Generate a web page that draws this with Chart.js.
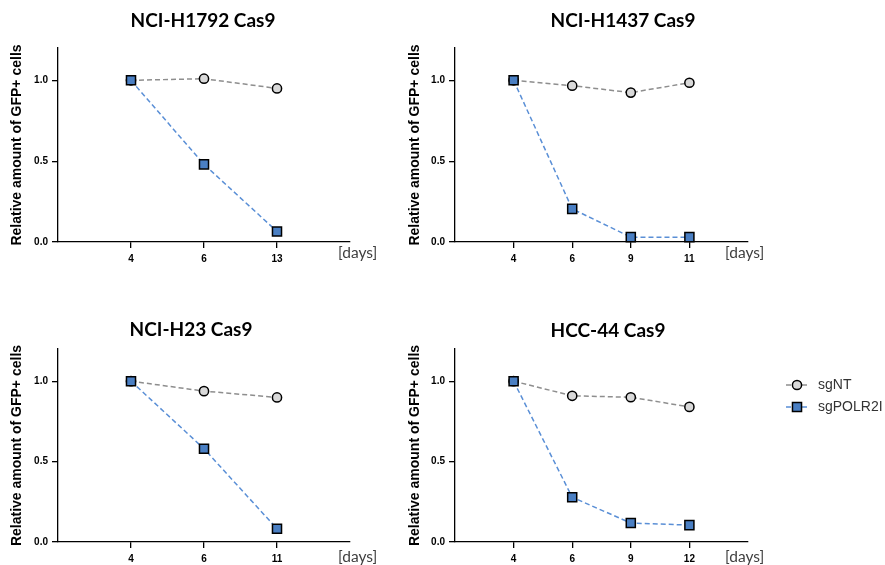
<!DOCTYPE html>
<html>
<head>
<meta charset="utf-8">
<script src="https://cdn.jsdelivr.net/npm/chart.js@4"></script>
<style>
  html, body { margin: 0; padding: 0; background: #fff; width: 885px; height: 565px; overflow: hidden; }
  .wrap { position: absolute; }
  .title { position: absolute; font-family: Lato, "Liberation Sans", sans-serif; font-weight: 700; font-size: 19px; color: #000; white-space: nowrap; transform: translate(-50%, -50%); }
  .unit { position: absolute; font-family: Lato, "Liberation Sans", sans-serif; font-size: 15.5px; color: #404040; white-space: nowrap; transform: translateY(-50%); }
</style>
</head>
<body>
<script>
// ---- data ----
const seriesNames = ['sgNT', 'sgPOLR2I'];
const yTicks = [0, 0.5, 1.0];

const titleH1792 = 'NCI-H1792 Cas9';
const daysH1792 = ['4', '6', '13'];
const sgNT_H1792 = [1.0, 1.01, 0.95];
const sgPOLR2I_H1792 = [1.0, 0.48, 0.065];

const titleH1437 = 'NCI-H1437 Cas9';
const daysH1437 = ['4', '6', '9', '11'];
const sgNT_H1437 = [1.0, 0.967, 0.924, 0.985];
const sgPOLR2I_H1437 = [1.0, 0.205, 0.03, 0.03];

const titleH23 = 'NCI-H23 Cas9';
const daysH23 = ['4', '6', '11'];
const sgNT_H23 = [1.0, 0.938, 0.899];
const sgPOLR2I_H23 = [1.0, 0.58, 0.082];

const titleHCC44 = 'HCC-44 Cas9';
const daysHCC44 = ['4', '6', '9', '12'];
const sgNT_HCC44 = [1.0, 0.909, 0.90, 0.84];
const sgPOLR2I_HCC44 = [1.0, 0.278, 0.118, 0.105];

const unitLabel = '[days]';
const yTitle = 'Relative amount of GFP+ cells';

// ---- styles ----
const NT_STYLE = { line: '#8e8e8e', fill: '#d9d9d9', shape: 'circle', r: 4.6 };
const PO_STYLE = { line: '#5a8fd6', fill: '#4a7fc3', shape: 'rect', r: 6.4 };

const panels = [
  { title: titleH1792, days: daysH1792, nt: sgNT_H1792, po: sgPOLR2I_H1792,
    left: 0, top: 30, w: 400, h: 240, yW: 58, padR: 50, padB: 6, titleX: 203, titleY: 19, unitX: 338, unitY: 252, yTitlePad: 8.6 },
  { title: titleH1437, days: daysH1437, nt: sgNT_H1437, po: sgPOLR2I_H1437,
    left: 400, top: 30, w: 400, h: 240, yW: 55, padR: 52, padB: 6, titleX: 623, titleY: 19, unitX: 725, unitY: 252, yTitlePad: 6.6 },
  { title: titleH23, days: daysH23, nt: sgNT_H23, po: sgPOLR2I_H23,
    left: 0, top: 330, w: 400, h: 235, yW: 58, padR: 50, padB: 1, titleX: 191, titleY: 328, unitX: 338, unitY: 556, yTitlePad: 8.6 },
  { title: titleHCC44, days: daysHCC44, nt: sgNT_HCC44, po: sgPOLR2I_HCC44,
    left: 400, top: 330, w: 485, h: 235, yW: 55, padR: 137, padB: 1, titleX: 608, titleY: 329, unitX: 725, unitY: 556, yTitlePad: 6.6, legend: true }
];

const legendPlugin = {
  id: 'customLegend',
  afterDraw(chart, args, opts) {
    if (!opts || !opts.show) return;
    const ctx = chart.ctx;
    const items = [
      { name: seriesNames[0], st: NT_STYLE, y: opts.y0 },
      { name: seriesNames[1], st: PO_STYLE, y: opts.y1 }
    ];
    ctx.save();
    items.forEach(it => {
      ctx.strokeStyle = it.st.line;
      ctx.lineWidth = 1.5;
      ctx.setLineDash([5, 3]);
      ctx.beginPath();
      ctx.moveTo(opts.x - 11, it.y);
      ctx.lineTo(opts.x + 10, it.y);
      ctx.stroke();
      ctx.setLineDash([]);
      ctx.fillStyle = it.st.fill;
      ctx.strokeStyle = '#000';
      ctx.lineWidth = 1.5;
      Chart.helpers.drawPoint(ctx, { pointStyle: it.st.shape, radius: it.st.r, borderWidth: 1.5, rotation: 0 }, opts.x, it.y);
      ctx.fillStyle = '#333';
      ctx.font = '14px "Liberation Sans", Arial, sans-serif';
      ctx.textAlign = 'left';
      ctx.textBaseline = 'middle';
      ctx.fillText(it.name, opts.tx, it.y);
    });
    ctx.restore();
  }
};

panels.forEach((p, idx) => {
  const wrap = document.createElement('div');
  wrap.className = 'wrap';
  wrap.style.left = p.left + 'px';
  wrap.style.top = p.top + 'px';
  wrap.style.width = p.w + 'px';
  wrap.style.height = p.h + 'px';
  const cv = document.createElement('canvas');
  wrap.appendChild(cv);
  document.body.appendChild(wrap);

  const t = document.createElement('div');
  t.className = 'title';
  t.textContent = p.title;
  t.style.left = p.titleX + 'px';
  t.style.top = p.titleY + 'px';
  document.body.appendChild(t);

  const u = document.createElement('div');
  u.className = 'unit';
  u.textContent = unitLabel;
  u.style.left = p.unitX + 'px';
  u.style.top = p.unitY + 'px';
  document.body.appendChild(u);

  const labels = [''].concat(p.days, ['']);
  const ntData = [null].concat(p.nt, [null]);
  const poData = [null].concat(p.po, [null]);
  const n = p.days.length;

  new Chart(cv, {
    type: 'line',
    data: {
      labels: labels,
      datasets: [
        { label: seriesNames[0], data: ntData, order: 2,
          borderColor: NT_STYLE.line, borderWidth: 1.5, borderDash: [5, 3],
          pointStyle: NT_STYLE.shape, pointRadius: NT_STYLE.r, pointBackgroundColor: NT_STYLE.fill,
          pointBorderColor: '#000', pointBorderWidth: 1.5, tension: 0, spanGaps: false },
        { label: seriesNames[1], data: poData, order: 1,
          borderColor: PO_STYLE.line, borderWidth: 1.5, borderDash: [5, 3],
          pointStyle: PO_STYLE.shape, pointRadius: PO_STYLE.r, pointBackgroundColor: PO_STYLE.fill,
          pointBorderColor: '#000', pointBorderWidth: 1.5, tension: 0, spanGaps: false }
      ]
    },
    options: {
      responsive: true,
      maintainAspectRatio: false,
      animation: false,
      events: [],
      clip: false,
      layout: { padding: { left: 0, top: p.top === 30 ? 18 : 19, right: p.padR, bottom: p.padB } },
      plugins: {
        legend: { display: false },
        tooltip: { enabled: false },
        title: { display: false },
        customLegend: { show: !!p.legend, x: 397, y0: 55, y1: 77, tx: 418 }
      },
      scales: {
        x: {
          type: 'category',
          offset: false,
          afterBuildTicks: (s) => { s.ticks = s.ticks.filter(tk => tk.value > 0 && tk.value < n + 1); },
          afterFit: (s) => { s.height = 22; },
          grid: { display: true, drawOnChartArea: false, drawTicks: true, tickLength: 6, color: '#000', tickColor: '#000', lineWidth: 1.3 },
          border: { display: true, color: '#000', width: 1.3 },
          ticks: { autoSkip: false, maxRotation: 0, padding: 5, color: '#000',
                   font: { family: '"Liberation Sans", Arial, sans-serif', size: 10, weight: 'bold' } }
        },
        y: {
          type: 'linear',
          min: 0, max: 1.2,
          afterBuildTicks: (s) => { s.ticks = yTicks.map(v => ({ value: v })); },
          afterFit: (s) => { s.width = p.yW; },
          grid: { display: true, drawOnChartArea: false, drawTicks: true, tickLength: 6, color: '#000', tickColor: '#000', lineWidth: 1.3 },
          border: { display: true, color: '#000', width: 1.3 },
          ticks: { padding: 4, color: '#000', callback: (v) => Number(v).toFixed(1),
                   font: { family: '"Liberation Sans", Arial, sans-serif', size: 10, weight: 'bold' } },
          title: { display: true, text: yTitle, color: '#000', padding: { top: p.yTitlePad, bottom: 0 },
                   font: { family: '"Liberation Sans", Arial, sans-serif', size: 14, weight: 'bold' } }
        }
      }
    },
    plugins: [legendPlugin]
  });
});
</script>
</body>
</html>
